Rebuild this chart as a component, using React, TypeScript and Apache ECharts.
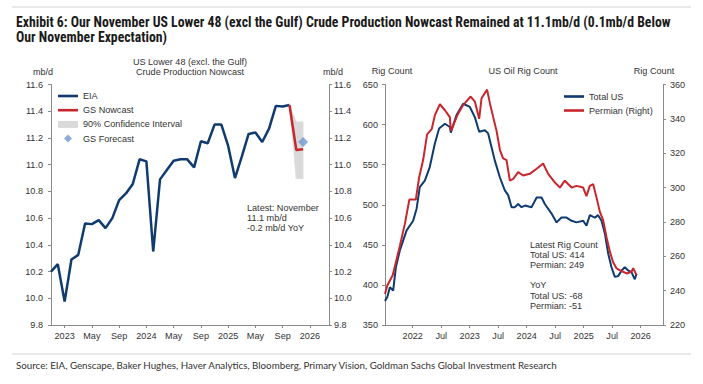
import { useEffect, useRef } from 'react';
import * as echarts from 'echarts';

// ---------- Left chart: US Lower 48 crude production (mb/d) ----------
const eiaMonths = [
  '2022-10', '2022-11', '2022-12',
  '2023-01', '2023-02', '2023-03', '2023-04', '2023-05', '2023-06', '2023-07', '2023-08', '2023-09', '2023-10', '2023-11', '2023-12',
  '2024-01', '2024-02', '2024-03', '2024-04', '2024-05', '2024-06', '2024-07', '2024-08', '2024-09', '2024-10', '2024-11', '2024-12',
  '2025-01', '2025-02', '2025-03', '2025-04', '2025-05', '2025-06', '2025-07', '2025-08', '2025-09',
];
const eiaValues = [
  10.2, 10.255, 9.975,
  10.29, 10.325, 10.56, 10.555, 10.585, 10.525, 10.6, 10.735, 10.785, 10.855, 11.04, 11.025,
  10.35, 10.89, 10.96, 11.03, 11.04, 11.04, 10.98, 11.175, 11.16, 11.3, 11.3, 11.14,
  10.9, 11.06, 11.23, 11.24, 11.17, 11.27, 11.44, 11.435, 11.447,
];
const nowcastMonths = ['2025-09', '2025-10', '2025-11'];
const nowcastValues = [11.447, 11.11, 11.115];
const ciLower = [11.447, 10.895, 10.895];
const ciUpper = [11.447, 11.32, 11.32];
const forecastMonths = ['2025-11'];
const forecastValues = [11.17];
const leftTickLabels = ['2023', 'May', 'Sep', '2024', 'May', 'Sep', '2025', 'May', 'Sep', '2026'];

// ---------- Right chart: US oil rig count ----------
const totalDates = [
  '2021-07-06', '2021-07-21', '2021-08-07', '2021-08-28', '2021-09-15', '2021-10-10', '2021-11-23',
  '2022-01-04', '2022-01-26', '2022-02-16', '2022-03-18', '2022-04-19', '2022-05-21', '2022-06-18',
  '2022-07-25', '2022-08-26', '2022-09-02', '2022-10-08', '2022-11-20',
  '2023-01-02', '2023-02-04', '2023-03-01', '2023-04-07', '2023-04-28', '2023-05-19', '2023-06-10',
  '2023-07-12', '2023-08-13', '2023-09-04', '2023-09-26', '2023-10-17', '2023-11-07', '2023-11-29', '2023-12-20',
  '2024-02-02', '2024-03-04', '2024-04-05', '2024-04-26', '2024-06-08', '2024-07-10', '2024-08-11',
  '2024-09-13', '2024-10-15', '2024-11-16', '2024-12-28',
  '2025-01-19', '2025-02-10', '2025-03-12', '2025-04-02', '2025-04-24', '2025-05-15', '2025-06-06',
  '2025-06-27', '2025-07-18', '2025-08-09', '2025-09-01', '2025-09-21', '2025-10-12', '2025-11-03',
  '2025-11-24', '2025-12-05',
];
const totalValues = [
  380, 385, 397, 393, 422, 443, 468,
  480, 495, 522, 530, 547, 576, 595,
  601, 597, 590, 612, 626,
  622, 609, 591, 593, 589, 572, 555,
  534, 518, 512, 497, 497, 501, 497, 499,
  497, 509, 509, 501, 489, 478, 484,
  484, 480, 478, 480,
  474, 487, 484, 487, 480, 464, 439,
  422, 410, 411, 418, 422, 418, 416,
  407, 414,
];
const permianDates = [
  '2021-07-06', '2021-07-21', '2021-08-25', '2021-09-19', '2021-10-10', '2021-11-12', '2021-12-10',
  '2022-01-21', '2022-02-12', '2022-03-07', '2022-04-02', '2022-05-01', '2022-05-21', '2022-06-23',
  '2022-07-25', '2022-08-26', '2022-09-02', '2022-10-18', '2022-11-20',
  '2023-01-07', '2023-02-04', '2023-03-01', '2023-03-16', '2023-04-21', '2023-05-09', '2023-05-30',
  '2023-06-21', '2023-07-12', '2023-08-02', '2023-08-24', '2023-09-15', '2023-10-06', '2023-11-07', '2023-12-09',
  '2024-01-21', '2024-03-04', '2024-04-15', '2024-05-17', '2024-06-29', '2024-08-01', '2024-09-02',
  '2024-10-15', '2024-11-16', '2024-12-28',
  '2025-01-19', '2025-02-10', '2025-03-01', '2025-03-23', '2025-04-13', '2025-05-04', '2025-05-26',
  '2025-06-16', '2025-07-07', '2025-07-29', '2025-08-19', '2025-09-10', '2025-10-02', '2025-11-03',
  '2025-11-14', '2025-12-05',
];
const permianValues = [
  238, 243, 249, 258, 266, 279, 293,
  293, 306, 316, 331, 334, 342, 348.5,
  345, 341, 333, 343, 348,
  353, 350, 340, 352, 357, 349, 341,
  333, 322, 317, 316, 304, 305, 309, 307,
  308, 311, 314, 308, 303, 300, 304,
  300, 301, 300,
  295, 301, 302, 294, 286, 281, 271,
  263, 256.5, 253, 252, 251, 250, 251,
  253, 249,
];
const rightTickLabels = ['2022', 'Jul', '2023', 'Jul', '2024', 'Jul', '2025', 'Jul', '2026'];

// ---------- helpers ----------
function monthPos(d: string, baseYear: number): number {
  const [y, m, dd] = d.split('-').map(Number);
  return (y - baseYear) * 12 + (m - 1) + ((dd || 1) - 1) / 30.44;
}
// monthly data plotted at month end (start of following month), 0 = Jan 2023
const leftPos = (ym: string) => monthPos(ym + '-01', 2023) + 1;
const rightPos = (d: string) => monthPos(d, 2022);

const leftTickValues = leftTickLabels.map((_, i) => i * 4);
const rightTickValues = rightTickLabels.map((_, i) => i * 6);

const FONT = '"Liberation Sans", Arial, sans-serif';
const AXIS_GRAY = '#8a8a8a';
const TEXT = '#333333';
const NAVY = '#0f3b6e';
const RED = '#c8262d';
const CI_GRAY = '#d9d9d9';
const DIAMOND_BLUE = '#7198cf';
const FS = 9.1;
const LINE_ICON = 'path://M0,0H20V2.6H0Z';
const RECT_ICON = 'path://M0,0H20V7H0Z';
const DIAMOND_ICON = 'path://M4,0L8,4L4,8L0,4Z';

function yAxis(gridIndex: number, position: 'left' | 'right', min: number, max: number, interval: number, decimals: number, margin: number) {
  return {
    type: 'value' as const,
    gridIndex,
    position,
    min,
    max,
    interval,
    axisLine: { show: true, onZero: false, lineStyle: { color: AXIS_GRAY, width: 1 } },
    axisTick: { show: true, inside: false, length: 3, lineStyle: { color: AXIS_GRAY } },
    splitLine: { show: false },
    axisLabel: {
      color: TEXT, fontSize: FS, fontFamily: FONT, margin,
      formatter: (v: number) => v.toFixed(decimals),
    },
  };
}

function xAxis(gridIndex: number, min: number, max: number, ticks: number[], labels: string[]) {
  return {
    type: 'value' as const,
    gridIndex,
    min,
    max,
    axisLine: { show: true, onZero: false, lineStyle: { color: AXIS_GRAY, width: 1 } },
    axisTick: { show: true, length: 3, customValues: ticks, lineStyle: { color: AXIS_GRAY } },
    splitLine: { show: false },
    axisLabel: {
      customValues: ticks,
      color: TEXT, fontSize: FS, fontFamily: FONT, margin: 6,
      formatter: (v: number) => {
        const i = ticks.findIndex((t) => Math.abs(t - v) < 1e-6);
        return i >= 0 ? labels[i] : '';
      },
    },
  };
}

const txt = (text: string, x: number, y: number, align: string = 'left', extra: any = {}) => ({
  type: 'text',
  x,
  y,
  silent: true,
  style: {
    text,
    fill: TEXT,
    fontSize: FS,
    fontFamily: FONT,
    align,
    verticalAlign: 'middle',
    ...extra,
  },
});

export default function App() {
  const ref = useRef<HTMLDivElement>(null);

  useEffect(() => {
    if (!ref.current) return;
    const chart = echarts.init(ref.current, undefined, { renderer: 'svg' });

    // CI band segments: [x0, lo0, up0, x1, lo1, up1]
    const ciSegments = nowcastMonths.slice(0, -1).map((m, i) => [
      leftPos(m), ciLower[i], ciUpper[i],
      leftPos(nowcastMonths[i + 1]), ciLower[i + 1], ciUpper[i + 1],
    ]);

    const option: any = {
      animation: false,
      backgroundColor: '#ffffff',
      textStyle: { fontFamily: FONT },
      grid: [
        { left: 51, top: 84.5, width: 278, height: 240.5 },
        { left: 385, top: 84.5, width: 278, height: 240.5 },
      ],
      xAxis: [
        xAxis(0, -2, 38.8, leftTickValues, leftTickLabels),
        xAxis(1, -5.83, 52.7, rightTickValues, rightTickLabels),
      ],
      yAxis: [
        yAxis(0, 'left', 9.8, 11.6, 0.2, 1, 8),
        yAxis(0, 'right', 9.8, 11.6, 0.2, 1, 5),
        yAxis(1, 'left', 350, 650, 50, 0, 7),
        yAxis(1, 'right', 220, 360, 20, 0, 7),
      ],
      legend: [
        {
          orient: 'vertical', left: 58, top: 91.5, padding: 0,
          itemWidth: 20, itemHeight: 8, itemGap: 5.2,
          selectedMode: false,
          itemStyle: { borderWidth: 0 },
          textStyle: { fontSize: FS, color: TEXT, fontFamily: FONT },
          data: [
            { name: 'EIA', icon: LINE_ICON },
            { name: 'GS Nowcast', icon: LINE_ICON },
            { name: '90% Confidence Interval', icon: RECT_ICON },
            { name: 'GS Forecast', icon: DIAMOND_ICON },
          ],
        },
        {
          orient: 'vertical', left: 564, top: 92, padding: 0,
          itemWidth: 20, itemHeight: 8, itemGap: 5,
          selectedMode: false,
          itemStyle: { borderWidth: 0 },
          textStyle: { fontSize: FS, color: TEXT, fontFamily: FONT },
          data: [
            { name: 'Total US', icon: LINE_ICON },
            { name: 'Permian (Right)', icon: LINE_ICON },
          ],
        },
      ],
      series: [
        {
          name: '90% Confidence Interval', type: 'custom', xAxisIndex: 0, yAxisIndex: 0,
          silent: true, color: CI_GRAY, itemStyle: { color: CI_GRAY }, z: 1,
          encode: { x: [0, 3], y: [1, 2, 4, 5] },
          data: ciSegments,
          renderItem: (_params: any, api: any) => {
            const a = api.coord([api.value(0), api.value(2)]);
            const b = api.coord([api.value(3), api.value(5)]);
            const c = api.coord([api.value(3), api.value(4)]);
            const d = api.coord([api.value(0), api.value(1)]);
            return {
              type: 'polygon',
              shape: { points: [a, b, c, d] },
              style: { fill: CI_GRAY, stroke: CI_GRAY, lineWidth: 0.6 },
            };
          },
        },
        {
          name: 'EIA', type: 'line', xAxisIndex: 0, yAxisIndex: 0, symbol: 'none', color: NAVY,
          lineStyle: { color: NAVY, width: 2.5 }, z: 3,
          data: eiaMonths.map((m, i) => [leftPos(m), eiaValues[i]]),
        },
        {
          name: 'GS Nowcast', type: 'line', xAxisIndex: 0, yAxisIndex: 0, symbol: 'none', color: RED,
          lineStyle: { color: RED, width: 2.5 }, z: 3,
          data: nowcastMonths.map((m, i) => [leftPos(m), nowcastValues[i]]),
        },
        {
          name: 'GS Forecast', type: 'scatter', xAxisIndex: 0, yAxisIndex: 0, symbol: 'diamond',
          symbolSize: 10, color: DIAMOND_BLUE, itemStyle: { color: DIAMOND_BLUE }, z: 4,
          data: forecastMonths.map((m, i) => [leftPos(m), forecastValues[i]]),
        },
        {
          name: 'Total US', type: 'line', xAxisIndex: 1, yAxisIndex: 2, symbol: 'none', color: NAVY,
          lineStyle: { color: NAVY, width: 2 }, z: 3,
          data: totalDates.map((d, i) => [rightPos(d), totalValues[i]]),
        },
        {
          name: 'Permian (Right)', type: 'line', xAxisIndex: 1, yAxisIndex: 3, symbol: 'none', color: RED,
          lineStyle: { color: RED, width: 2 }, z: 3,
          data: permianDates.map((d, i) => [rightPos(d), permianValues[i]]),
        },
      ],
      graphic: [
        { type: 'line', silent: true, shape: { x1: 12, y1: 7, x2: 691, y2: 7 }, style: { stroke: '#d4d4d4', lineWidth: 1 } },
        {
          type: 'text', x: 16, y: 14, silent: true,
          style: {
            text: 'Exhibit 6: Our November US Lower 48 (excl the Gulf) Crude Production Nowcast Remained at 11.1mb/d (0.1mb/d Below\nOur November Expectation)',
            fill: '#1a1a1a', fontSize: 13.75, fontWeight: 'bold', lineHeight: 15.5,
            fontFamily: '"Liberation Sans Narrow", "Roboto Condensed", Lato, sans-serif',
            verticalAlign: 'top',
          },
        },
        txt('US Lower 48 (excl. the Gulf)', 190, 62, 'center'),
        txt('Crude Production Nowcast', 190, 72, 'center'),
        txt('mb/d', 43, 72, 'center'),
        txt('mb/d', 333, 72, 'center'),
        txt('Latest: November\n11.1 mb/d\n-0.2 mb/d YoY', 247, 217.7, 'left', { lineHeight: 10 }),
        txt('Rig Count', 392, 71, 'center'),
        txt('US Oil Rig Count', 523, 71, 'center'),
        txt('Rig Count', 654, 71, 'center'),
        txt('Latest Rig Count\nTotal US: 414\nPermian: 249\n\nYoY\nTotal US: -68\nPermian: -51', 530, 275.3, 'left', { lineHeight: 10.2 }),
        { type: 'line', silent: true, shape: { x1: 12, y1: 354, x2: 691, y2: 354 }, style: { stroke: '#d4d4d4', lineWidth: 1 } },
        txt('Source: EIA, Genscape, Baker Hughes, Haver Analytics, Bloomberg, Primary Vision, Goldman Sachs Global Investment Research',
          16, 364.5, 'left', { fontFamily: 'Lato, "Open Sans", sans-serif', fontSize: 9.75, fill: '#333333' }),
      ],
    };

    chart.setOption(option);
    return () => chart.dispose();
  }, []);

  return (
    <div
      ref={ref}
      style={{ position: 'absolute', left: 0, top: 0, width: 703, height: 384, background: '#fff' }}
    />
  );
}
